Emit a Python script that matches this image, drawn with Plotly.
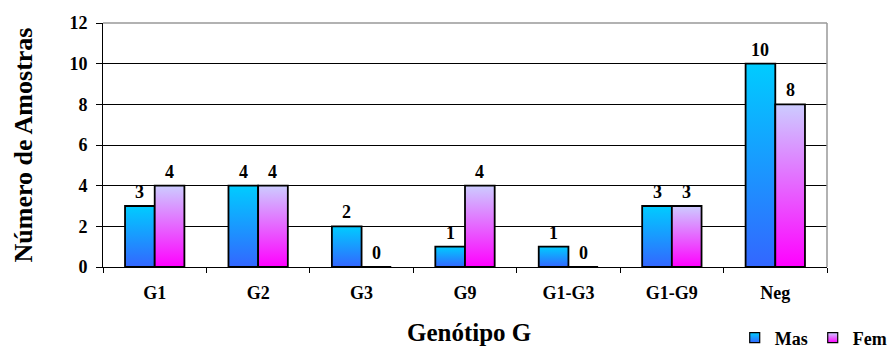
import plotly.graph_objects as go

# Sample counts per G genotype, split by sex
categories = ["G1", "G2", "G3", "G9", "G1-G3", "G1-G9", "Neg"]
mas = [3, 4, 2, 1, 1, 3, 10]
fem = [4, 4, 0, 4, 0, 3, 8]
y_ticks = [0, 2, 4, 6, 8, 10, 12]

FONT = "Liberation Serif"
BAR_W = 0.287  # width of one bar in category units

# name, values, offset side, (bottom colour, top colour)
series = [
    ("Mas", mas, -1, ("#3366FF", "#00CCFF")),
    ("Fem", fem, 0, ("#FF00FF", "#CCCCFF")),
]

fig = go.Figure()

# Bars as filled rectangles with a vertical colour gradient
for name, vals, side, (bottom, top) in series:
    for i, v in enumerate(vals):
        x0 = i + side * BAR_W
        x1 = x0 + BAR_W
        fig.add_trace(go.Scatter(
            x=[x0, x1, x1, x0, x0], y=[0, 0, v, v, 0],
            mode="lines", fill="toself",
            fillgradient=dict(type="vertical", colorscale=[[0, bottom], [1, top]]),
            line=dict(color="black", width=1.8),
            showlegend=False, hoverinfo="skip",
        ))

# Value labels above each bar
annotations = []
for name, vals, side, _ in series:
    for i, v in enumerate(vals):
        annotations.append(dict(
            x=i + side * BAR_W + BAR_W / 2, y=v, xref="x", yref="y",
            text=str(v), showarrow=False, xanchor="center", yanchor="bottom",
            yshift=2, font=dict(family=FONT, size=18, color="black", weight="bold"),
        ))

annotations.append(dict(text="Genótipo G", xref="paper", yref="paper",
                        x=0.5055, y=-0.27, xanchor="center", yanchor="middle",
                        showarrow=False,
                        font=dict(family=FONT, size=25, weight="bold")))

# Legend swatches
for name, vals, side, (bottom, top) in series:
    fig.add_trace(go.Scatter(
        x=[None], y=[None], mode="markers", name=name,
        marker=dict(symbol="square", size=10, color=top,
                    gradient=dict(type="vertical", color=bottom),
                    line=dict(color="black", width=1.2)),
    ))

fig.update_layout(
    width=896, height=347,
    margin=dict(l=103, r=69, t=23, b=80, autoexpand=False),
    paper_bgcolor="white", plot_bgcolor="white",
    font=dict(family=FONT, color="black"),
    showlegend=True,
    legend=dict(orientation="h", xref="container", yref="container",
                x=0.82, xanchor="left", y=0.026, yanchor="middle",
                font=dict(family=FONT, size=18, weight="bold"),
                bgcolor="rgba(0,0,0,0)", itemwidth=30),
    xaxis=dict(range=[-0.5, 6.5], tickvals=list(range(len(categories))),
               ticktext=categories, ticks="",
               tickfont=dict(family=FONT, size=18, weight="bold"),
               ticklabelstandoff=9,
               minor=dict(tickvals=[k - 0.5 for k in range(len(categories) + 1)],
                          ticks="outside", ticklen=5, tickcolor="black", showgrid=False),
               showline=True, linecolor="black", linewidth=1,
               showgrid=False, zeroline=False, fixedrange=True),
    yaxis=dict(range=[0, 12], tickvals=y_ticks, ticks="outside", ticklen=6,
               tickcolor="black", showline=True, linecolor="black", linewidth=1,
               showgrid=True, gridcolor="black", gridwidth=1, zeroline=False,
               tickfont=dict(family=FONT, size=18, weight="bold"),
               ticklabelstandoff=5, fixedrange=True,
               title=dict(text="Número de Amostras", standoff=29,
                          font=dict(family=FONT, size=26, weight="bold"))),
    annotations=annotations,
    shapes=[
        dict(type="line", xref="paper", yref="paper", x0=0, x1=1, y0=1, y1=1,
             line=dict(color="#999999", width=1.5), layer="above"),
        dict(type="line", xref="paper", yref="paper", x0=1, x1=1, y0=0, y1=1,
             line=dict(color="#999999", width=1.5), layer="above"),
    ],
)

fig.write_html("out.html")
